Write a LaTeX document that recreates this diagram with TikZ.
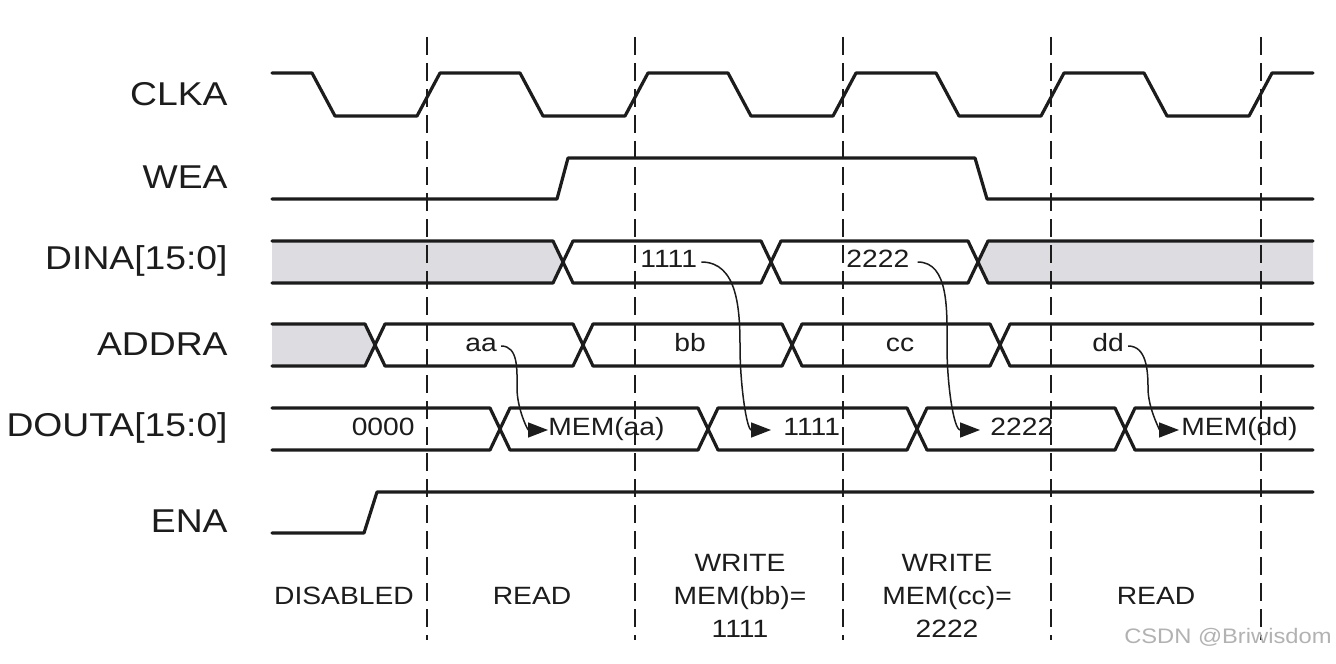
\documentclass[tikz,border=0pt]{standalone}
\usepackage{fontspec}
\setmainfont[FakeStretch=1.13]{Liberation Sans}
\usetikzlibrary{arrows.meta,calc}
\definecolor{ink}{RGB}{28,28,28}
\definecolor{busgray}{RGB}{221,221,225}
\definecolor{wm}{RGB}{178,178,178}
\newcommand{\BusHex}[4]{%
  \draw[wave] (#1,{(#3+#4)/2}) -- ({#1+10},#3) -- ({#2-10},#3) -- (#2,{(#3+#4)/2}) -- ({#2-10},#4) -- ({#1+10},#4) -- cycle;}
\newcommand{\BusStart}[4]{%
  \draw[wave] (#1,#3) -- ({#2-10},#3) -- (#2,{(#3+#4)/2}) -- ({#2-10},#4) -- (#1,#4);}
\newcommand{\BusEnd}[4]{%
  \draw[wave] (#2,#3) -- ({#1+10},#3) -- (#1,{(#3+#4)/2}) -- ({#1+10},#4) -- (#2,#4);}
\begin{document}
\begin{tikzpicture}[x=0.5pt,y=-0.5pt,
  wave/.style={line width=1.6pt, draw=ink, line join=round, line cap=round},
  gridline/.style={line width=1.4pt, draw=ink, dash pattern=on 9pt off 4pt},
  sig/.style={font=\fontsize{16.5}{19}\selectfont, text=ink, anchor=east, inner sep=0pt},
  val/.style={font=\fontsize{12.5}{15}\selectfont, text=ink, inner sep=2pt, text height=0.72em, text depth=0.2em},
  phase/.style={font=\fontsize{12.5}{16.5}\selectfont, text=ink, align=center},
  flow/.style={line width=0.75pt, draw=ink, -{Triangle[length=10pt,width=7.5pt]}},
]
\useasboundingbox (0,0) rectangle (1336,663);

% gray (undefined) regions
\fill[busgray] (272,241) -- (553,241) -- (563,262) -- (553,283) -- (272,283) -- cycle;
\fill[busgray] (978,262) -- (988,241) -- (1313,241) -- (1313,283) -- (988,283) -- cycle;
\fill[busgray] (272,324) -- (365,324) -- (375,345) -- (365,366) -- (272,366) -- cycle;

% dashed cycle boundaries
\foreach \x in {427,635,843,1051,1261} \draw[gridline] (\x,37) -- (\x,640);

% CLKA
\draw[wave] (272,73) \foreach \k in {0,...,4}{ -- ({312+208*\k},73) -- ({335+208*\k},116) -- ({417+208*\k},116) -- ({440+208*\k},73)} -- (1313,73);
% WEA
\draw[wave] (272,199) -- (557,199) -- (568,158) -- (975,158) -- (987,199) -- (1313,199);
% DINA
\BusStart{272}{563}{241}{283}
\BusHex{563}{771}{241}{283}
\BusHex{771}{978}{241}{283}
\BusEnd{978}{1313}{241}{283}
% ADDRA
\BusStart{272}{375}{324}{366}
\BusHex{375}{583}{324}{366}
\BusHex{583}{792}{324}{366}
\BusHex{792}{1000}{324}{366}
\BusEnd{1000}{1313}{324}{366}
% DOUTA
\BusStart{272}{500}{408}{450}
\BusHex{500}{708}{408}{450}
\BusHex{708}{917}{408}{450}
\BusHex{917}{1125}{408}{450}
\BusEnd{1125}{1313}{408}{450}
% ENA
\draw[wave] (272,533) -- (364,533) -- (377,492) -- (1313,492);

% signal names
\node[sig] (nclka) at (228,94) {CLKA};
\node[sig] (nwea) at (228,177) {WEA};
\node[sig] (ndina) at (228,261) {DINA[15:0]};
\node[sig] (naddra) at (228,344) {ADDRA};
\node[sig] (ndouta) at (228,428) {DOUTA[15:0]};
\node[sig] (nena) at (228,521) {ENA};

% bus values
\node[val, anchor=west] (d1111) at (636,262) {1111};
\node[val, anchor=west] (d2222) at (842,262) {2222};
\node[val] (aa) at (481,346) {aa};
\node[val] (bb) at (690,346) {bb};
\node[val] (cc) at (900,346) {cc};
\node[val] (dd) at (1108,346) {dd};
\node[val, anchor=east] (o0000) at (419,430) {0000};
\node[val, anchor=west, inner sep=0pt] (memaa) at (548,430) {MEM(aa)};
\node[val, anchor=west, inner sep=0pt] (o1111) at (783,430) {1111};
\node[val, anchor=west, inner sep=0pt] (o2222) at (990,430) {2222};
\node[val, anchor=west, inner sep=0pt] (memdd) at (1181,430) {MEM(dd)};

% data-flow arrows
\coordinate (ka) at (517,388);
\coordinate (k1) at (740,347);
\coordinate (k2) at (947,347);
\coordinate (kd) at (1148,388);
\draw[flow] (aa.east) to[out=0,in=90] (ka) to[out=-90,in=180] (memaa.west);
\draw[flow, shorten >=6pt] (d1111.east) to[out=0,in=90] (k1) to[out=-90,in=180] (o1111.west);
\draw[flow, shorten >=5pt, shorten <=2pt] (d2222.east) to[out=0,in=90] (k2) to[out=-90,in=180] (o2222.west);
\draw[flow, shorten >=1pt] (dd.east) to[out=0,in=90] (kd) to[out=-90,in=180] (memdd.west);

% phase labels
\node[phase] (p1) at (344,596) {DISABLED};
\node[phase] (p2) at (532,596) {READ};
\node[phase] (p3) at (740,596) {WRITE\\MEM(bb)=\\1111};
\node[phase] (p4) at (947,596) {WRITE\\MEM(cc)=\\2222};
\node[phase] (p5) at (1156,596) {READ};

% watermark
\node[font=\fontsize{10.5}{12}\selectfont, text=wm, anchor=east, inner sep=0pt] (wmk) at (1332,637) {CSDN @Briwisdom};
\end{tikzpicture}
\end{document}
